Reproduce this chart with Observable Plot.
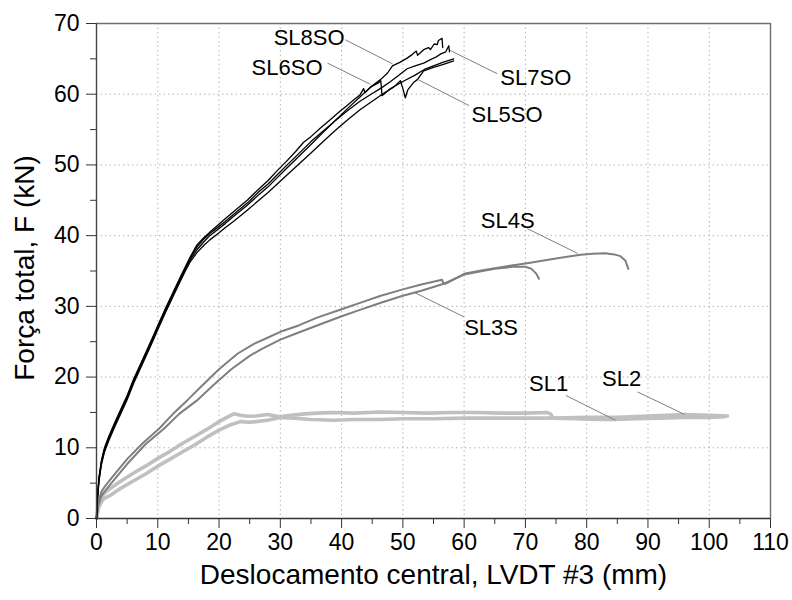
<!DOCTYPE html>
<html>
<head>
<meta charset="utf-8">
<script src="https://cdn.jsdelivr.net/npm/d3@7"></script>
<script src="https://cdn.jsdelivr.net/npm/@observablehq/plot@0.6"></script>
<style>
  html, body { margin: 0; padding: 0; background: #fff; }
</style>
</head>
<body>
<div id="chart"></div>
<script>
// ---- data ----
const sl1X = [0,0.3,0.7,1.2,2,4,6,8,10,12,14,16,18,20,21.5,22.4,23.5,24.6,26,27.9,30,31.7,34,36,38.7,42,46.4,50,54,58,62,66,70,73.5,74.1,74.5,78,82,84.7,88,92,96,100,102.5];
const sl1Y = [0,1.8,2.8,3.5,4.1,5.3,6.4,7.4,8.5,9.5,10.6,11.6,12.6,13.7,14.4,14.8,14.6,14.45,14.5,14.7,14.4,14.6,14.8,14.9,15.0,14.9,15.05,15.0,14.9,15.0,15.0,14.9,14.9,15.0,14.8,14.2,14.1,14.0,14.0,14.1,14.2,14.3,14.3,14.4];

const sl2X = [0,0.3,0.7,1.2,2.3,4,6,8,10,12,14,16,18,20,22,23.5,25,27.9,30,32.2,35,38.7,42,46.4,50,55,60,65,70,75,80,85,90,96,100,103];
const sl2Y = [0,1.4,2.2,2.8,3.3,4.3,5.3,6.3,7.4,8.4,9.4,10.4,11.5,12.5,13.3,13.7,13.6,13.9,14.3,14.2,14.0,13.9,14.0,14.0,14.1,14.1,14.2,14.2,14.2,14.2,14.3,14.3,14.5,14.7,14.6,14.5];

const sl3X = [0,0.3,0.8,1.5,3,5,8,11,13.5,16.4,19,22,25,27,30,33,36,40,43,46.4,50,53,56.7,60,63,65,68,70,71,71.8,72.2];
const sl3Y = [0,1.8,3.2,4.0,5.6,7.7,10.5,12.7,14.8,16.7,18.8,21.1,23.0,24.0,25.3,26.3,27.3,28.6,29.5,30.5,31.5,32.2,33.2,34.5,35.0,35.3,35.6,35.6,35.3,34.6,33.9];

const sl4X = [0,0.3,0.8,1.5,3,5,7.5,10.2,12.5,14.8,17,20,23,25.7,28,30,33,36,40,43,46.4,50,53,56.4,56.6,57,60,63,65,68,70.3,73,76,79,81,83,84.5,85.5,86.3,86.8];
const sl4Y = [0,2.3,3.8,4.7,6.3,8.4,10.6,12.7,14.8,16.7,18.6,21.1,23.3,24.7,25.6,26.4,27.3,28.4,29.6,30.5,31.5,32.4,33.1,33.75,33.3,33.2,34.6,35.1,35.4,35.8,36.1,36.5,36.9,37.3,37.45,37.5,37.35,37.1,36.5,35.3];

const sl5X = [0,0.15,0.4,0.8,1.3,2,3,4,5,6.1,7,8,9,10,11.3,12.5,13.7,14.5,15.3,16.4,17.5,18.5,19.7,21,22.5,24.6,26.5,28,29.5,31,33,35,37,39,41,43,45,47,48.5,49.6,50.1,50.4,50.8,51.8,52.4,53.4,55,56.5,58.3];
const sl5Y = [0,2.6,5.2,7.6,9.4,11.0,13.0,14.9,16.8,19.2,20.9,22.8,24.7,26.7,29.2,31.4,33.6,35.0,36.3,37.6,38.6,39.4,40.2,41.1,42.1,43.6,45.0,46.1,47.3,48.5,50.1,51.7,53.3,54.9,56.4,57.8,59.0,60.2,61.0,61.9,60.5,59.5,60.6,61.7,62.1,63.3,63.8,64.2,64.7];

const sl6X = [0,0.15,0.4,0.8,1.3,2,3,4,5,6.1,7,8,9,10,11.3,12.5,13.7,14.5,15.3,16.4,17.5,18.5,19.7,21,22.5,24.6,26.5,28,29.5,31,33,35,37,39,41,43,44.7,46,46.4,46.6,48,50,52,53.5,55,56.5,58.3];
const sl6Y = [0,2.9,5.6,8.0,9.8,11.4,13.3,15.2,17.1,19.5,21.2,23.0,25.0,27.0,29.5,31.7,33.9,35.3,36.6,38.0,39.1,40.0,40.8,41.7,42.8,44.3,45.8,46.9,48.2,49.5,51.2,52.9,54.6,56.3,58.0,59.6,61.0,61.6,61.9,59.8,60.8,61.8,62.7,63.5,64.0,64.5,65.0];

const sl7X = [0,0.15,0.4,0.8,1.3,2,3,4,5,6.1,7,8,9,10,11.3,12.5,13.7,14.5,15.3,16.4,17.5,18.5,19.7,21,22.5,24.6,26.5,28,29.5,31,33,35,37,39,41,43,45,46.5,48,49.5,50.7,52,53.4,54.5,55.3,56.2,57,57.5,57.6];
const sl7Y = [0,2.8,5.5,7.9,9.7,11.4,13.4,15.3,17.2,19.6,21.3,23.2,25.1,27.1,29.6,31.8,34.0,35.4,36.8,38.4,39.5,40.3,41.1,42.0,43.1,44.6,46.2,47.3,48.6,49.9,51.6,53.3,54.8,56.3,57.7,59.0,60.1,60.9,61.8,62.8,63.6,64.0,64.4,64.9,65.2,65.7,66.0,66.85,66.0];

const sl8X = [0,0.15,0.4,0.8,1.3,2,3,4,5,6.1,7,8,9,10,11.3,12.5,13.7,14.5,15.3,16.4,17.5,18.5,19.7,21,22.5,24.6,26.5,28,29.5,31,32.5,33.8,35,36.5,38,39.5,40.9,42,43,43.6,43.8,45,46.4,47.5,48.3,49.5,50.7,51.5,52.2,52.4,53.4,54.2,54.5,55.1,55.6,55.8,56.4,56.5];
const sl8Y = [0,3,5.8,8.2,10,11.6,13.6,15.5,17.4,19.8,21.5,23.4,25.3,27.3,29.8,32,34.2,35.6,37,38.7,39.7,40.5,41.4,42.4,43.5,45.0,46.6,47.8,49.2,50.5,51.9,53.2,54.0,55.2,56.3,57.4,58.4,59.2,59.9,60.8,60.2,61.2,62.1,63.0,64.0,64.5,65.1,65.6,66.1,65.5,66.3,66.6,66.3,67.1,67.0,67.6,67.9,66.6];

// labels (data coordinates of text centre) and leader lines
const labelText = ["SL8SO","SL6SO","SL7SO","SL5SO","SL4S","SL3S","SL1","SL2"];
const labelX    = [34.7, 31.1, 71.7, 67.0, 67.1, 64.4, 73.8, 85.7];
const labelY    = [68.0, 63.7, 62.3, 57.0, 42.1, 27.0, 19.0, 19.7];
const leadX1    = [40.6, 37.7, 57.7, 52.4, 70.3, 51.8, 76.6, 88.3];
const leadY1    = [67.7, 64.4, 66.2, 62.1, 41.0, 32.0, 17.4, 17.9];
const leadX2    = [48.3, 44.7, 65.4, 60.8, 78.5, 60.0, 84.7, 96.0];
const leadY2    = [64.3, 61.4, 62.9, 58.4, 37.5, 28.5, 13.9, 14.7];

const xMajor = [0,10,20,30,40,50,60,70,80,90,100,110];
const xMinor = [5,15,25,35,45,55,65,75,85,95,105];
const yMajor = [0,10,20,30,40,50,60,70];
const yMinor = [5,15,25,35,45,55,65];
const xTitle = "Deslocamento central, LVDT #3 (mm)";
const yTitle = "Força total, F (kN)";

// ---- build tables ----
const zip = (xs, ys) => xs.map((x, i) => ({x, y: ys[i]}));
const lightSeries = [zip(sl1X, sl1Y), zip(sl2X, sl2Y)];
const midSeries = [zip(sl3X, sl3Y), zip(sl4X, sl4Y)];
const darkSeries = [zip(sl5X, sl5Y), zip(sl6X, sl6Y), zip(sl7X, sl7Y), zip(sl8X, sl8Y)];
const labels = labelText.map((t, i) => ({t, x: labelX[i], y: labelY[i]}));
const leads = labelText.map((t, i) => ({x1: leadX1[i], y1: leadY1[i], x2: leadX2[i], y2: leadY2[i]}));

const font = "'Liberation Sans', Arial, Helvetica, sans-serif";

const chart = Plot.plot({
  width: 792,
  height: 600,
  marginLeft: 96,
  marginRight: 22,
  marginTop: 23,
  marginBottom: 82,
  style: {fontFamily: font, color: "#000", background: "#fff"},
  x: {domain: [0, 110]},
  y: {domain: [0, 70]},
  marks: [
    Plot.gridX(xMajor.slice(1, -1), {stroke: "#b4b4b4", strokeOpacity: 1, strokeDasharray: "1.5,3"}),
    Plot.gridY(yMajor.slice(1, -1), {stroke: "#b4b4b4", strokeOpacity: 1, strokeDasharray: "1.5,3"}),
    Plot.ruleY([70], {stroke: "#6e6e6e", strokeWidth: 1.4}),
    Plot.ruleX([110], {stroke: "#6e6e6e", strokeWidth: 1.4}),
    ...lightSeries.map(s => Plot.line(s, {x: "x", y: "y", stroke: "#c0c0c0", strokeWidth: 3.6})),
    ...midSeries.map(s => Plot.line(s, {x: "x", y: "y", stroke: "#7f7f7f", strokeWidth: 2})),
    ...darkSeries.map(s => Plot.line(s, {x: "x", y: "y", stroke: "#000", strokeWidth: 1.3})),
    Plot.link(leads, {x1: "x1", y1: "y1", x2: "x2", y2: "y2", stroke: "#808080", strokeWidth: 1}),
    Plot.text(labels, {x: "x", y: "y", text: "t", fontSize: 22, fill: "#000"}),
    Plot.ruleX([0], {stroke: "#444", strokeWidth: 1.4}),
    Plot.ruleY([0], {stroke: "#333", strokeWidth: 1.4}),
    Plot.axisX({ticks: xMajor, tickSize: 10, tickPadding: 5, fontSize: 23, label: null, stroke: "#333"}),
    Plot.axisX({ticks: xMinor, tickSize: 6, tickFormat: () => "", label: null, stroke: "#333"}),
    Plot.axisY({ticks: yMajor, tickSize: 10, tickPadding: 7, fontSize: 23, label: null, stroke: "#333"}),
    Plot.axisY({ticks: yMinor, tickSize: 6, tickFormat: () => "", label: null, stroke: "#333"}),
    Plot.text([xTitle], {frameAnchor: "bottom", textAnchor: "middle", dy: 65, fontSize: 28, fill: "#000"}),
    Plot.text([yTitle], {frameAnchor: "left", textAnchor: "middle", rotate: -90, dx: -71, dy: -3, fontSize: 28, fill: "#000"})
  ]
});
document.getElementById("chart").appendChild(chart);
</script>
</body>
</html>
